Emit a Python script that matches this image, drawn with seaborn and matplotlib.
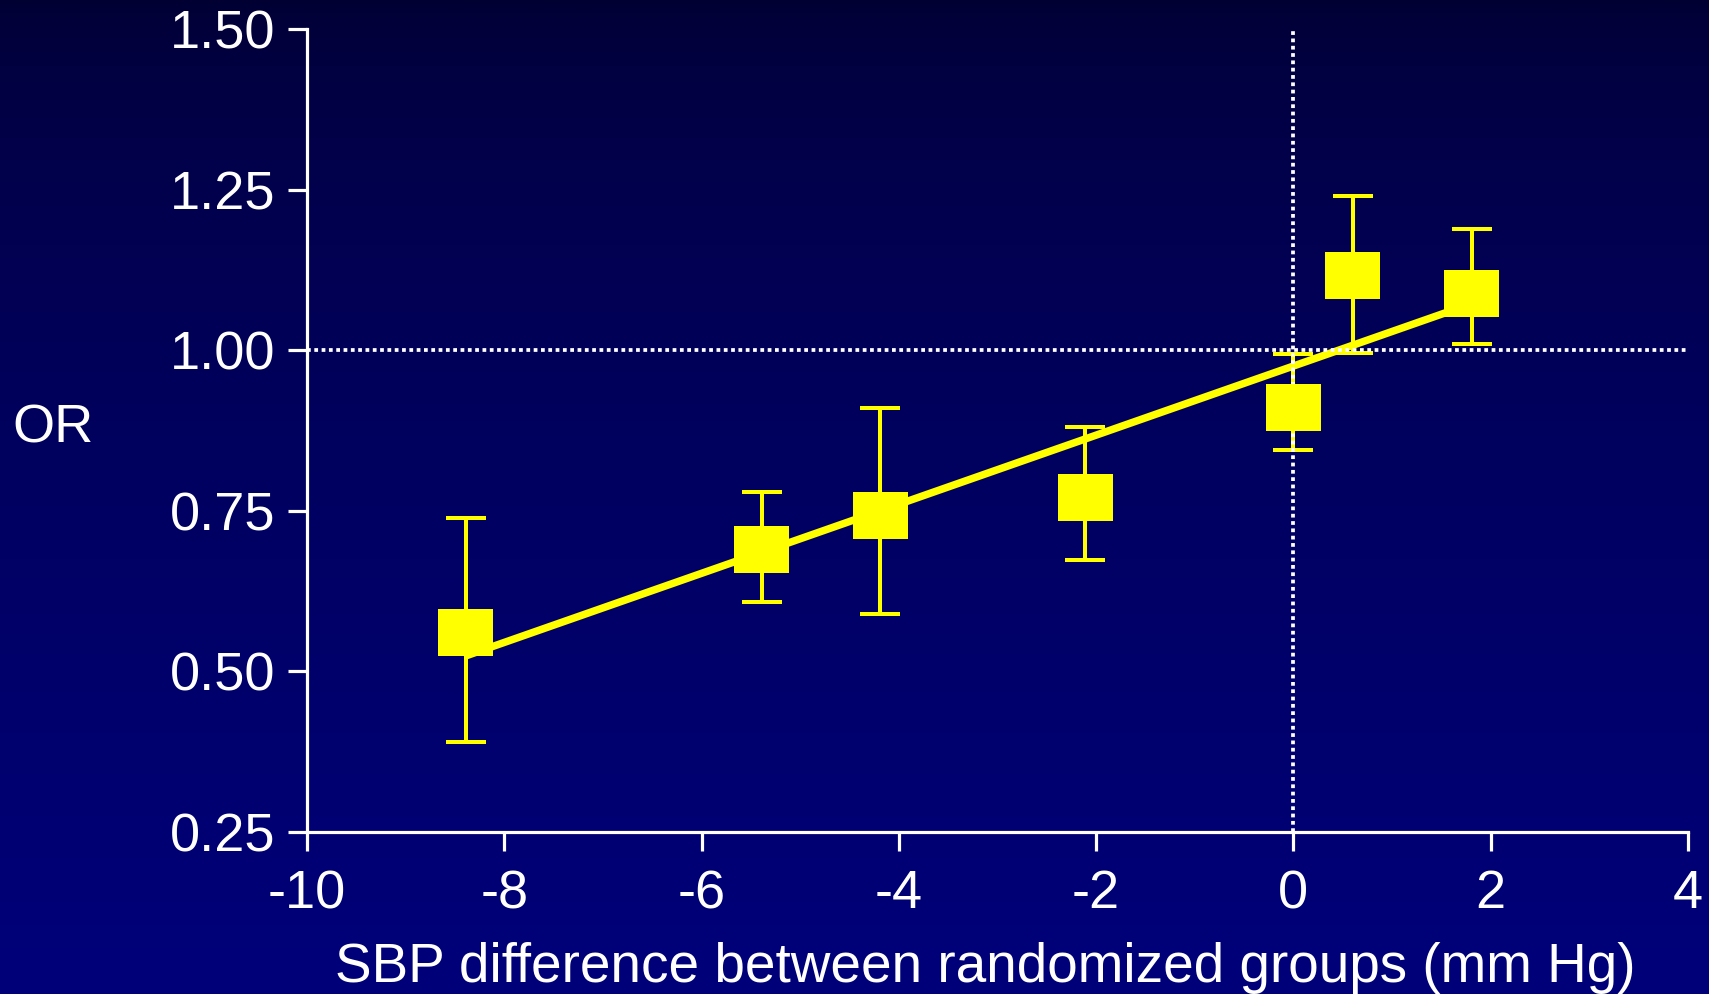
import numpy as np
import pandas as pd
import matplotlib
matplotlib.use("Agg")
import matplotlib.pyplot as plt
import seaborn as sns

# Trial-level results: SBP difference vs odds ratio with 95% CI
sbp_diff = [-8.39, -5.39, -4.19, -2.11, 0.00, 0.60, 1.81]
odds_ratio = [0.560, 0.689, 0.742, 0.770, 0.911, 1.117, 1.088]
ci_low = [0.390, 0.608, 0.590, 0.673, 0.845, 0.996, 1.010]
ci_high = [0.739, 0.779, 0.910, 0.881, 0.994, 1.240, 1.189]

x_ticks = [-10, -8, -6, -4, -2, 0, 2, 4]
y_ticks = [0.25, 0.50, 0.75, 1.00, 1.25, 1.50]
y_tick_labels = ["0.25", "0.50", "0.75", "1.00", "1.25", "1.50"]

df = pd.DataFrame({"sbp": sbp_diff, "or": odds_ratio,
                   "lo": ci_low, "hi": ci_high})

sns.set_theme(style="white")
plt.rcParams["font.family"] = ["Liberation Sans", "DejaVu Sans"]

YELLOW = "#ffff00"
WHITE = "#ffffff"
FS = 39

fig = plt.figure(figsize=(17.09, 9.94), dpi=100)

# vertical dark-to-navy gradient backdrop
bg = fig.add_axes([0, 0, 1, 1], zorder=-10)
t = np.linspace(0, 1, 512) ** 0.6
top = np.array([2, 0, 50]) / 255
bot = np.array([0, 0, 122]) / 255
grad = top[None, :] + (bot - top)[None, :] * t[:, None]
bg.imshow(grad[:, None, :], aspect="auto", extent=[0, 1, 0, 1])
bg.set_axis_off()

ax = fig.add_axes([0.1796, 0.163, 0.8081, 0.8078])
ax.set_facecolor("none")

# confidence intervals
ax.errorbar(df["sbp"], df["or"],
            yerr=[df["or"] - df["lo"], df["hi"] - df["or"]],
            fmt="none", ecolor=YELLOW, elinewidth=2.9, capsize=14.4,
            capthick=2.9, zorder=2)

# least-squares fit across the trials
sns.regplot(data=df, x="sbp", y="or", ax=ax, ci=None, scatter=False,
            truncate=True,
            line_kws={"color": YELLOW, "lw": 5.4, "zorder": 3,
                      "solid_capstyle": "butt"})

# reference lines at OR = 1 and no SBP difference
ax.axhline(1.0, color=WHITE, lw=2.7, ls=(0, (1.0, 0.95)), zorder=4)
ax.axvline(0.0, color=WHITE, lw=2.7, ls=(0, (1.0, 0.95)), zorder=4)

# rectangular point markers
rect = [(-1, -0.855), (1, -0.855), (1, 0.855), (-1, 0.855), (-1, -0.855)]
sns.scatterplot(data=df, x="sbp", y="or", ax=ax, marker=rect, s=39.6 ** 2,
                color=YELLOW, edgecolor="none", linewidth=0, zorder=5,
                legend=False)

ax.set_xlim(-10, 4)
ax.set_ylim(0.25, 1.5)
ax.set_xticks(x_ticks)
ax.set_xticklabels([str(v) for v in x_ticks])
ax.set_yticks(y_ticks)
ax.set_yticklabels(y_tick_labels)

for side in ("top", "right"):
    ax.spines[side].set_visible(False)
for side in ("left", "bottom"):
    ax.spines[side].set_color(WHITE)
    ax.spines[side].set_linewidth(2.3)

ax.tick_params(axis="both", colors=WHITE, labelcolor=WHITE, labelsize=FS,
               length=13.7, width=2.3, direction="out")
ax.tick_params(axis="y", pad=9, left=True)
ax.tick_params(axis="x", pad=13, bottom=True)

ax.set_xlabel("SBP difference between randomized groups (mm Hg)",
              color=WHITE, fontsize=39.5, va="center")
ax.xaxis.set_label_coords(0.491, -0.170)
ax.set_ylabel("OR", color=WHITE, fontsize=FS, rotation=0,
              ha="center", va="center")
ax.yaxis.set_label_coords(-0.184, 0.502)

fig.savefig("out.png", dpi=100)
